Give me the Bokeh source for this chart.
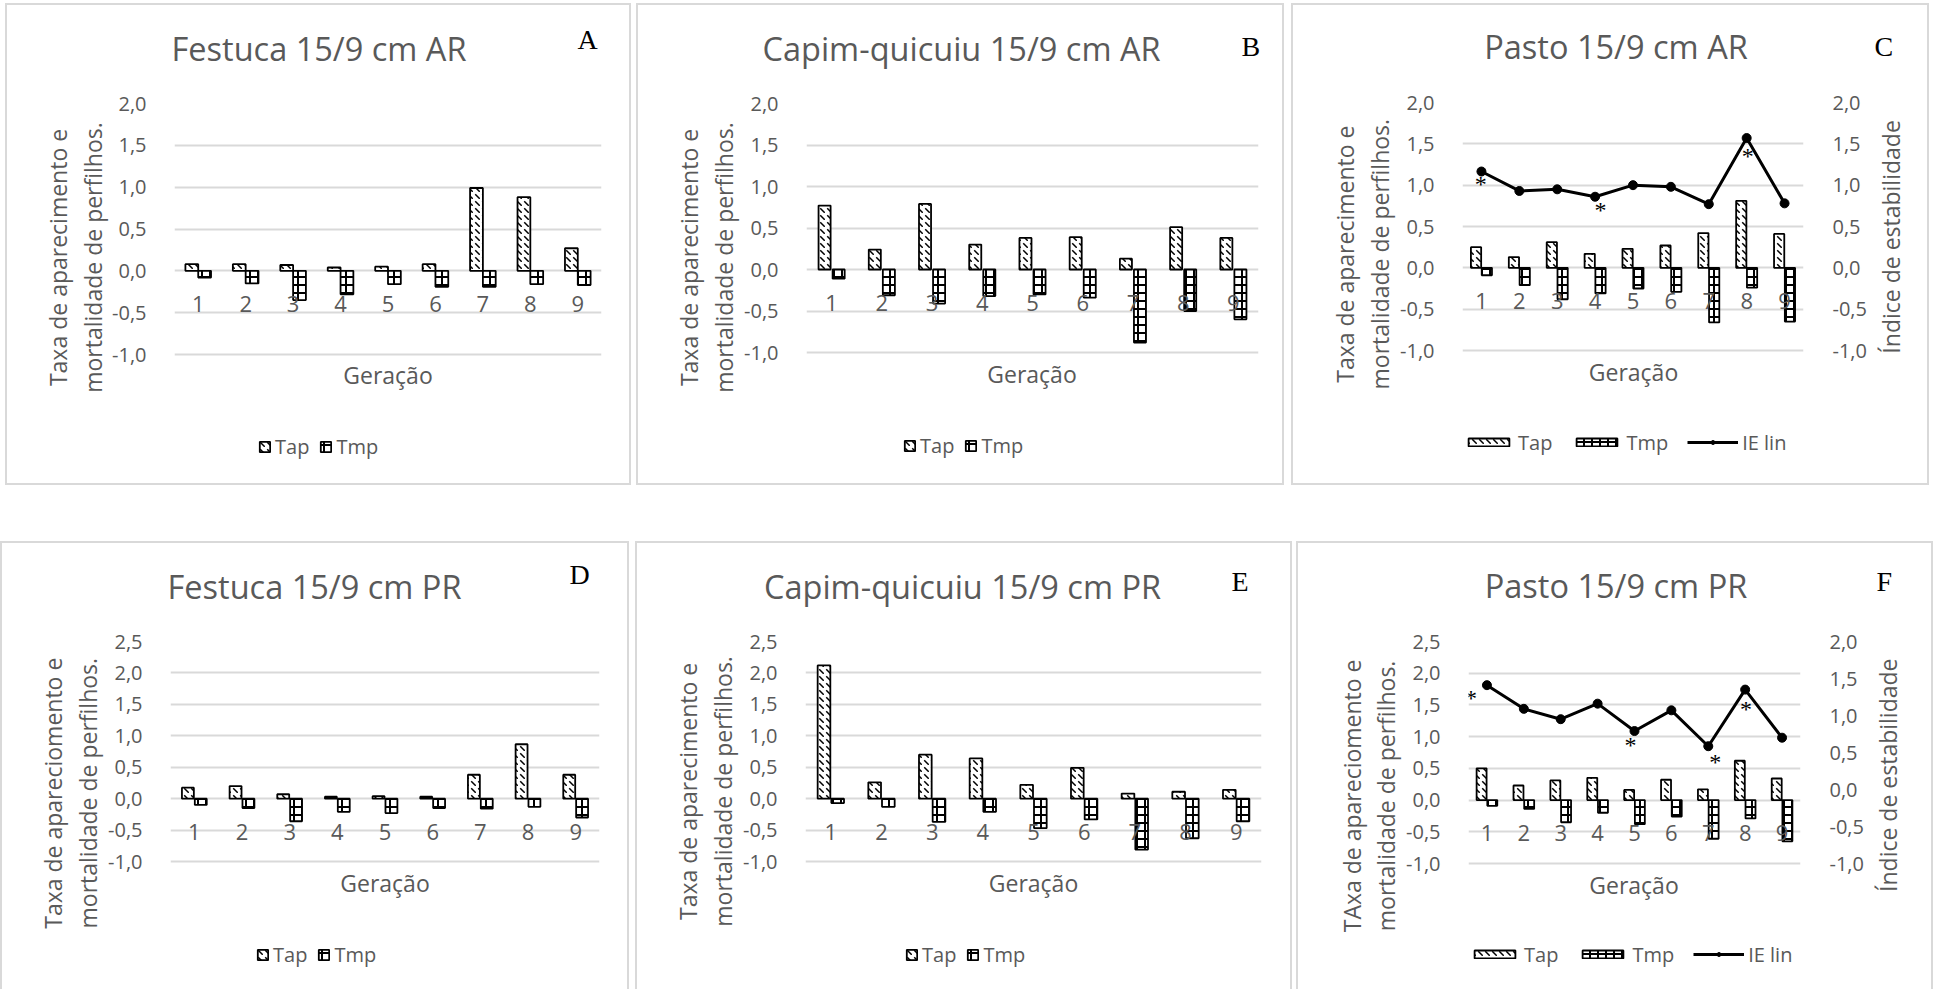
import math
from bokeh.plotting import figure
from bokeh.models import (Range1d, LinearAxis, FixedTicker, CustomJSTickFormatter,
                          Label, Legend, LegendItem, Spacer, ColumnDataSource)
from bokeh.layouts import row, column
from bokeh.embed import file_html
from bokeh.resources import INLINE
from bokeh.core.properties import value
from bokeh.transform import dodge

# ---------------- data ----------------
geracao = [1, 2, 3, 4, 5, 6, 7, 8, 9]
yticks_ar = [-1.0, -0.5, 0.0, 0.5, 1.0, 1.5, 2.0]
yticks_pr = [-1.0, -0.5, 0.0, 0.5, 1.0, 1.5, 2.0, 2.5]
yticks_ie = [-1.0, -0.5, 0.0, 0.5, 1.0, 1.5, 2.0]

# A  Festuca 15/9 cm AR
tap_a = [0.08, 0.08, 0.07, 0.04, 0.05, 0.08, 0.99, 0.88, 0.27]
tmp_a = [-0.08, -0.15, -0.35, -0.28, -0.16, -0.19, -0.19, -0.16, -0.17]
# B  Capim-quicuiu 15/9 cm AR
tap_b = [0.77, 0.24, 0.79, 0.30, 0.38, 0.39, 0.13, 0.51, 0.38]
tmp_b = [-0.11, -0.31, -0.41, -0.32, -0.30, -0.34, -0.88, -0.50, -0.60]
# C  Pasto 15/9 cm AR
tap_c = [0.25, 0.13, 0.31, 0.17, 0.23, 0.27, 0.42, 0.81, 0.41]
tmp_c = [-0.09, -0.21, -0.38, -0.31, -0.25, -0.29, -0.66, -0.24, -0.65]
ie_c = [1.165, 0.93, 0.95, 0.86, 1.00, 0.98, 0.77, 1.57, 0.78]
ast_c_x = [0.98, 4.14, 8.03]
ast_c_y = [1.03, 0.71, 1.37]
# D  Festuca 15/9 cm PR
tap_d = [0.175, 0.20, 0.07, 0.03, 0.04, 0.03, 0.38, 0.865, 0.38]
tmp_d = [-0.10, -0.15, -0.36, -0.21, -0.23, -0.15, -0.16, -0.13, -0.30]
# E  Capim-quicuiu 15/9 cm PR
tap_e = [2.12, 0.26, 0.70, 0.64, 0.22, 0.49, 0.08, 0.11, 0.14]
tmp_e = [-0.07, -0.13, -0.37, -0.21, -0.47, -0.33, -0.81, -0.63, -0.36]
# F  Pasto 15/9 cm PR
tap_f = [0.50, 0.23, 0.31, 0.35, 0.16, 0.32, 0.17, 0.62, 0.34]
tmp_f = [-0.09, -0.14, -0.35, -0.20, -0.38, -0.26, -0.61, -0.29, -0.65]
ie_f = [1.41, 1.09, 0.95, 1.16, 0.79, 1.07, 0.585, 1.35, 0.70]
ast_f_x = [0.57, 4.89, 7.19, 8.02]
ast_f_y = [1.245, 0.61, 0.38, 1.10]

ylab_ar = ["Taxa de aparecimento e", "mortalidade de perfilhos."]
ylab_d = ["Taxa de apareciomento e", "mortalidade de perfilhos."]
ylab_f = ["TAxa de apareciomento e", "mortalidade de perfilhos."]

# ---------------- style ----------------
GRID = "#d9d9d9"
TXT = "#595959"
FONT = "Open Sans"
SERIF = "Liberation Serif"
BW = 2
MB = 15      # bottom margin of the plot figure below its frame
CORR = 0.38  # label anchor correction (em) so that the glyph baseline lands on target
FMT = "return tick.toFixed(1).replace('.', ',');"

panels = [
    dict(key="A", box=(5, 3, 631, 485, True), frame=(173, 601, 103, 354), yr=(-1.0, 2.0), yt=yticks_ar,
         tap=tap_a, tmp=tmp_a, bw=0.27, gap=0.0, title="Festuca 15/9 cm AR", title_xy=(318.5, 60.5),
         letter="A", letter_xy=(577, 50), ylab=ylab_ar, ylab_x=(66, 101), ylab_cy=250, xs=109, yS=80,
         ger_xy=(387, 383), leg_xy=(257, 446)),
    dict(key="B", box=(636, 3, 1284, 485, True), frame=(803, 1258, 103, 352), yr=(-1.0, 2.0), yt=yticks_ar,
         tap=tap_b, tmp=tmp_b, bw=0.24, gap=0.04, title="Capim-quicuiu 15/9 cm AR", title_xy=(961, 60),
         letter="B", letter_xy=(1241, 57), ylab=ylab_ar, ylab_x=(697, 732), ylab_cy=250, xs=741, yS=80,
         ger_xy=(1030, 382), leg_xy=(900, 445)),
    dict(key="C", box=(1291, 3, 1929, 485, True), frame=(1458, 1803, 102, 350), yr=(-1.0, 2.0), yt=yticks_ar,
         tap=tap_c, tmp=tmp_c, bw=0.27, gap=0.015, title="Pasto 15/9 cm AR", title_xy=(1615.5, 58.5),
         letter="C", letter_xy=(1874, 57), ylab=ylab_ar, ylab_x=(1353, 1388), ylab_cy=247, xs=1397, yS=80,
         ger_xy=(1631, 380), leg_xy=(1448, 442),
         ie=ie_c, ast_x=ast_c_x, ast_y=ast_c_y, rlab_xy=(1899, 228), xr=1870),
    dict(key="D", box=(0, 541, 629, 989, False), frame=(167, 599, 641, 861), yr=(-1.0, 2.5), yt=yticks_pr,
         tap=tap_d, tmp=tmp_d, bw=0.25, gap=0.02, title="Festuca 15/9 cm PR", title_xy=(314, 598),
         letter="D", letter_xy=(569, 585), ylab=ylab_d, ylab_x=(61, 96), ylab_cy=787, xs=105, yS=618,
         ger_xy=(383, 891), leg_xy=(253, 954)),
    dict(key="E", box=(635, 541, 1292, 989, False), frame=(801, 1261, 641, 861), yr=(-1.0, 2.5), yt=yticks_pr,
         tap=tap_e, tmp=tmp_e, bw=0.25, gap=0.02, title="Capim-quicuiu 15/9 cm PR", title_xy=(962, 598),
         letter="E", letter_xy=(1231, 592), ylab=ylab_ar, ylab_x=(696, 731), ylab_cy=785, xs=740, yS=618,
         ger_xy=(1031, 891), leg_xy=(901, 954)),
    dict(key="F", box=(1296, 541, 1933, 989, False), frame=(1465, 1800, 641, 863), yr=(-1.0, 2.5), yt=yticks_pr,
         tap=tap_f, tmp=tmp_f, bw=0.27, gap=0.02, title="Pasto 15/9 cm PR", title_xy=(1615.5, 597),
         letter="F", letter_xy=(1876, 592), ylab=ylab_f, ylab_x=(1360, 1394), ylab_cy=790, xs=1403, yS=618,
         ger_xy=(1632, 893), leg_xy=(1449, 954),
         ie=ie_f, ast_x=ast_f_x, ast_y=ast_f_y, rlab_xy=(1896, 767), xr=1867),
]


def text_fig(x0, x1, y0, y1):
    """A figure whose frame is its whole canvas; data units are page pixels."""
    f = figure(width=x1 - x0, height=y1 - y0, x_range=Range1d(x0, x1), y_range=Range1d(y1, y0),
               x_axis_location=None, y_axis_location=None, min_border=0,
               output_backend="svg", toolbar_location=None, tools="",
               outline_line_color=None, background_fill_color="white", border_fill_color="white")
    for g in f.grid:
        g.visible = False
    return f


def hlabel(x, y, text, font, size, color=TXT, align="center"):
    """Horizontal label whose alphabetic baseline sits at page-pixel y (y grows downward)."""
    return Label(x=x, y=y - CORR * size, text=text, text_font=font, text_font_size=f"{size}px",
                 text_color=color, text_align=align, text_baseline="alphabetic")


def vlabel(x, y, text, size=23):
    """Label reading bottom-to-top whose baseline sits at page-pixel x."""
    return Label(x=x - CORR * size, y=y, text=text, angle=math.pi / 2, text_align="center",
                 text_baseline="alphabetic", text_font=FONT, text_font_size=f"{size}px", text_color=TXT)


def make_panel(P):
    L, T, R, B, bb = P["box"]
    iL, iR, iT = L + BW, R - BW, T + BW
    iB = B - BW if bb else B
    fx0, fx1, fy0, fy1 = P["frame"]
    ymin, ymax = P["yr"]
    xS, yS = P["xs"], P["yS"]
    has_ie = "ie" in P
    xR = P["xr"] if has_ie else iR
    fbot = iB - MB
    span = (fy1 - fy0) / (ymax - ymin)  # px per unit
    ybot = ymin - (fbot - fy1) / span

    # ---- top strip: title + letter ----
    top = text_fig(iL, iR, iT, yS)
    tx, ty = P["title_xy"]
    top.add_layout(hlabel(tx, ty, P["title"], FONT, 32.5))
    lx2, ly2 = P["letter_xy"]
    top.add_layout(hlabel(lx2, ly2, P["letter"], SERIF, 28, color="black", align="left"))

    # ---- left strip: y axis title ----
    left = text_fig(iL, xS, yS, iB)
    for txt, bx in zip(P["ylab"], P["ylab_x"]):
        left.add_layout(vlabel(bx, P["ylab_cy"], txt))

    # ---- main plot ----
    p = figure(width=xR - xS, height=iB - yS, x_range=Range1d(0.5, 9.5), y_range=Range1d(ybot, ymax),
               output_backend="svg", toolbar_location=None, tools="",
               min_border_left=fx0 - xS, min_border_right=xR - fx1,
               min_border_top=fy0 - yS, min_border_bottom=MB,
               outline_line_color=None, background_fill_color="white", border_fill_color="white")

    def X(px):
        return 0.5 + (px - fx0) / (fx1 - fx0) * 9.0

    def Y(py):
        return ymax - (py - fy0) / span

    zero_px = fy0 + ymax * span

    yt = FixedTicker(ticks=P["yt"])
    yax = p.yaxis[0]
    yax.ticker = yt
    yax.formatter = CustomJSTickFormatter(code=FMT)
    yax.axis_line_color = None
    yax.major_tick_line_color = None
    yax.minor_tick_line_color = None
    yax.major_label_standoff = 22
    yax.major_label_text_font = FONT
    yax.major_label_text_font_size = "20px"
    yax.major_label_text_color = TXT
    p.ygrid[0].ticker = yt
    p.ygrid[0].grid_line_color = GRID
    p.ygrid[0].grid_line_width = 2
    p.xgrid[0].grid_line_color = None

    # x axis labels sit just below the zero line
    xax = p.xaxis[0]
    xax.ticker = FixedTicker(ticks=geracao)
    xax.major_label_standoff = -45
    xax.fixed_location = Y(zero_px + 19 + 45)
    xax.axis_line_color = None
    xax.major_tick_line_color = None
    xax.minor_tick_line_color = None
    xax.major_label_text_font = FONT
    xax.major_label_text_font_size = "22px"
    xax.major_label_text_color = TXT

    src = ColumnDataSource(dict(g=geracao, tap=P["tap"], tmp=P["tmp"]))
    w, gap = P["bw"], P["gap"]
    r_tap = p.vbar(x=dodge("g", -(w + gap) / 2, range=p.x_range), top="tap", bottom=0, width=w, source=src,
                   fill_color="white", line_color="black", line_width=1.8,
                   hatch_pattern="left_diagonal_dash", hatch_color="black",
                   hatch_scale=7, hatch_weight=1.5)
    r_tmp = p.vbar(x=dodge("g", (w + gap) / 2, range=p.x_range), top="tmp", bottom=0, width=w, source=src,
                   fill_color="white", line_color="black", line_width=1.8,
                   hatch_pattern="cross", hatch_color="black",
                   hatch_scale=8, hatch_weight=2)
    items = [LegendItem(label="Tap", renderers=[r_tap]), LegendItem(label="Tmp", renderers=[r_tmp])]

    children = [left, p]
    if has_ie:
        ie_bot = -1.0 - (fbot - fy1) / ((fy1 - fy0) / 3.0)
        p.extra_y_ranges = {"ie": Range1d(ie_bot, 2.0)}
        ax2 = LinearAxis(y_range_name="ie", ticker=FixedTicker(ticks=yticks_ie),
                         formatter=CustomJSTickFormatter(code=FMT))
        ax2.axis_line_color = None
        ax2.major_tick_line_color = None
        ax2.minor_tick_line_color = None
        ax2.major_label_standoff = 23
        ax2.major_label_text_font = FONT
        ax2.major_label_text_font_size = "20px"
        ax2.major_label_text_color = TXT
        p.add_layout(ax2, "right")
        isrc = ColumnDataSource(dict(g=geracao, ie=P["ie"]))
        r_line = p.line(x="g", y="ie", source=isrc, y_range_name="ie", line_color="black", line_width=3)
        r_pts = p.scatter(x="g", y="ie", source=isrc, y_range_name="ie", marker="circle", size=9,
                          fill_color="black", line_color="black")
        items.append(LegendItem(label="IE lin", renderers=[r_line, r_pts]))
        asrc = ColumnDataSource(dict(x=P["ast_x"], y=P["ast_y"], t=["*"] * len(P["ast_x"])))
        p.text(x="x", y="y", text="t", source=asrc, y_range_name="ie",
               text_font=value(SERIF), text_font_size="24px", text_color="black",
               text_align="center", text_baseline="middle", y_offset=1)
        right = text_fig(xR, iR, yS, iB)
        rx, rcy = P["rlab_xy"]
        right.add_layout(vlabel(rx, rcy, "Índice de estabilidade"))
        children.append(right)
        gw, gh, sp = 51, 10, 19
    else:
        gw, gh, sp = 13, 13, 10

    lx, lcy = P["leg_xy"]
    lx = max(lx, fx0 + 1)
    leg = Legend(items=items, orientation="horizontal",
                 location=(lx - fx0, fbot - (lcy + 13.5)),
                 glyph_width=gw, glyph_height=gh, label_standoff=4, spacing=sp,
                 padding=0, margin=0, border_line_color=None, background_fill_alpha=0,
                 label_text_font=FONT, label_text_font_size="20px", label_text_color=TXT)
    p.add_layout(leg)

    gx, gy = P["ger_xy"]
    p.add_layout(Label(x=X(gx), y=Y(gy - CORR * 23), text="Geração", text_font=FONT,
                       text_font_size="23px", text_color=TXT, text_align="center",
                       text_baseline="alphabetic"))

    border = f"{BW}px solid {GRID}"
    styles = {"border-top": border, "border-left": border, "border-right": border}
    if bb:
        styles["border-bottom"] = border
    return column(top, row(*children), styles=styles)


figs = {P["key"]: make_panel(P) for P in panels}

row1 = row(Spacer(width=5, height=10), figs["A"], Spacer(width=5, height=10), figs["B"],
           Spacer(width=7, height=10), figs["C"])
row2 = row(figs["D"], Spacer(width=6, height=10), figs["E"], Spacer(width=4, height=10), figs["F"])
layout = column(Spacer(width=10, height=3), row1, Spacer(width=10, height=56), row2)

open("out.html", "w").write(file_html(layout, INLINE))
